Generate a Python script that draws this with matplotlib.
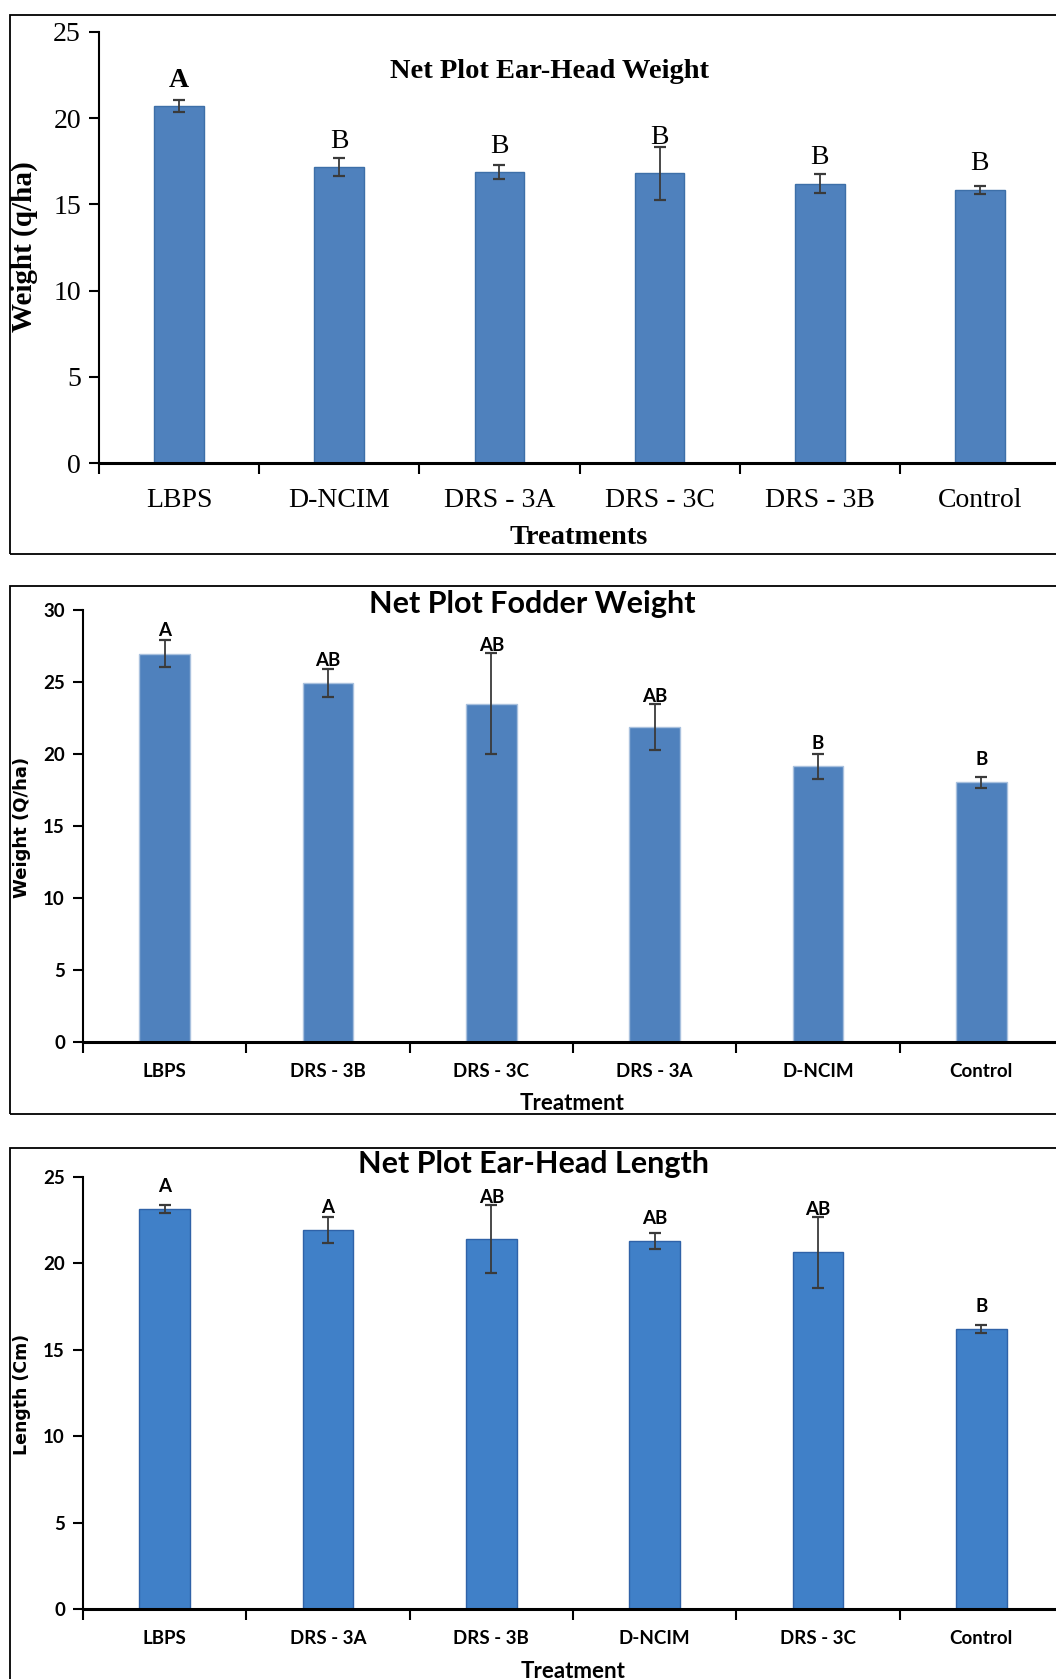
import matplotlib
matplotlib.use("Agg")
import matplotlib.pyplot as plt
from matplotlib.patches import Rectangle
from matplotlib.ticker import FixedLocator, NullFormatter

W, H = 1056, 1679

# Net Plot Ear-Head Weight
ew_cats = ["LBPS", "D-NCIM", "DRS - 3A", "DRS - 3C", "DRS - 3B", "Control"]
ew_vals = [20.7, 17.15, 16.87, 16.8, 16.2, 15.85]
ew_err = [0.35, 0.52, 0.38, 1.55, 0.57, 0.23]
ew_letters = ["A", "B", "B", "B", "B", "B"]

# Net Plot Fodder Weight
fw_cats = ["LBPS", "DRS - 3B", "DRS - 3C", "DRS - 3A", "D-NCIM", "Control"]
fw_vals = [26.97, 24.9, 23.5, 21.9, 19.13, 18.02]
fw_err = [0.95, 0.97, 3.5, 1.6, 0.87, 0.4]
fw_letters = ["A", "AB", "AB", "AB", "B", "B"]

# Net Plot Ear-Head Length
el_cats = ["LBPS", "DRS - 3A", "DRS - 3B", "D-NCIM", "DRS - 3C", "Control"]
el_vals = [23.12, 21.93, 21.38, 21.28, 20.62, 16.19]
el_err = [0.25, 0.75, 1.97, 0.45, 2.05, 0.21]
el_letters = ["A", "A", "AB", "AB", "AB", "B"]

SERIF = "Liberation Serif"
SANS = "Lato"
WIDE = "DejaVu Sans"  # the sans y-labels are drawn wide in the original

fig = plt.figure(figsize=(W / 100, H / 100), dpi=100)


def px_axes(x0, y0, x1, y1):
    """axes from pixel box (top-left origin)"""
    return fig.add_axes([x0 / W, 1 - y1 / H, (x1 - x0) / W, (y1 - y0) / H])


def frame(x0, y0, x1, y1):
    fig.add_artist(Rectangle((x0 / W, 1 - y1 / H), (x1 - x0) / W, (y1 - y0) / H,
                             transform=fig.transFigure, fill=False, ec="black", lw=1.3))


def label(x, y, s, family, size, rot=0, weight="bold"):
    fig.text(x / W, 1 - y / H, s, ha="center", va="center", rotation=rot,
             family=family, weight=weight, fontsize=size)


def panel(ax, cats, vals, err, letters, ymax, color, edge, font, tick_fs, tick_w,
          off, gap, letter_fs):
    x = range(len(cats))
    ax.bar(x, vals, width=0.31, color=color, edgecolor=edge, lw=1.0, zorder=2)
    ax.errorbar(x, vals, yerr=err, fmt="none", ecolor="#3a3a3a", elinewidth=1.3,
                capsize=4.5, capthick=1.6, zorder=3)
    for i, (v, e, lt) in enumerate(zip(vals, err, letters)):
        y = max(v + off, v + e + gap)
        wt = "bold" if (font == SANS or lt == "A") else "normal"
        ax.text(i, y, lt, ha="center", va="center", fontsize=letter_fs,
                family=font, weight=wt, zorder=4)
    ax.set_xlim(-0.5, len(cats) - 0.5)
    ax.set_ylim(0, ymax)
    ax.set_yticks(range(0, ymax + 1, 5))
    ax.set_xticks(list(x))
    ax.set_xticklabels(cats)
    ax.xaxis.set_minor_locator(FixedLocator([i - 0.5 for i in range(len(cats) + 1)]))
    ax.xaxis.set_minor_formatter(NullFormatter())
    ax.tick_params(axis="x", which="major", length=0, pad=20)
    ax.tick_params(axis="x", which="minor", length=8, width=1.5, direction="out")
    ax.tick_params(axis="y", length=7, width=1.5, direction="out", pad=6)
    for lab in ax.get_xticklabels() + ax.get_yticklabels():
        lab.set_family(font)
        lab.set_fontsize(tick_fs)
        lab.set_weight(tick_w)
    for s in ("top", "right"):
        ax.spines[s].set_visible(False)
    ax.spines["left"].set_linewidth(1.5)
    ax.spines["bottom"].set_linewidth(2.2)
    ax.spines["bottom"].set_zorder(5)


# panel 1
frame(10, 15, 1070, 554)
ax1 = px_axes(99, 31.7, 1060, 463.3)
panel(ax1, ew_cats, ew_vals, ew_err, ew_letters, 25, "#4f81bd", "#3d6fa8", SERIF,
      20, "normal", 1.5, 0.5, 20)
ax1.tick_params(axis="x", which="major", pad=18)
label(550, 72, "Net Plot Ear-Head Weight", SERIF, 20.5)
label(579, 538, "Treatments", SERIF, 20.5)
label(24, 247, "Weight (q/ha)", SERIF, 21, rot=90)

# panel 2
frame(10, 586, 1070, 1114)
ax2 = px_axes(83, 610, 1063, 1041.7)
panel(ax2, fw_cats, fw_vals, fw_err, fw_letters, 30, "#4f81bd", "#a9c1de", SANS,
      13.5, "bold", 1.6, 0.5, 13.5)
ax2.tick_params(axis="x", which="major", pad=15)
label(532, 604, "Net Plot Fodder Weight", SANS, 22)
label(572, 1103, "Treatment", SANS, 16)
label(22, 827, "Weight (Q/ha)", WIDE, 13, rot=90)

# panel 3
frame(10, 1148, 1070, 1700)
ax3 = px_axes(83, 1176.5, 1063, 1609.3)
panel(ax3, el_cats, el_vals, el_err, el_letters, 25, "#4080c8", "#2f62a8", SANS,
      13.5, "bold", 1.3, 0.45, 13.5)
ax3.tick_params(axis="x", which="major", pad=15)
label(533, 1164, "Net Plot Ear-Head Length", SANS, 22)
label(573, 1671, "Treatment", SANS, 16)
label(22, 1394, "Length (Cm)", WIDE, 12.5, rot=90)

fig.savefig("out.png", dpi=100)
